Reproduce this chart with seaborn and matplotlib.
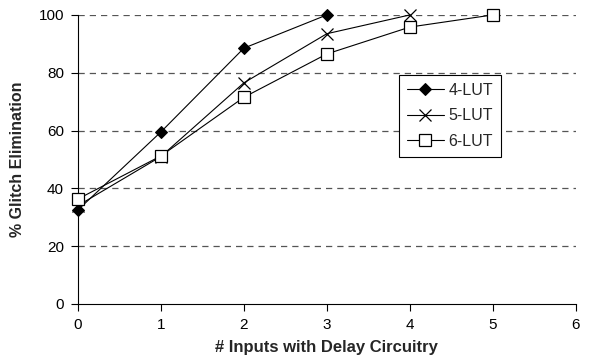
import seaborn as sns
import matplotlib.pyplot as plt
import pandas as pd

# values
lut4_x = [0, 1, 2, 3]
lut4_y = [32.5, 59.5, 88.5, 100]
lut5_x = [0, 1, 2, 3, 4]
lut5_y = [34, 51, 76.5, 93.5, 100]
lut6_x = [0, 1, 2, 3, 4, 5]
lut6_y = [36.3, 51.2, 71.5, 86.5, 95.8, 100]

df = pd.concat([
    pd.DataFrame({"x": lut4_x, "y": lut4_y, "LUT": "4-LUT"}),
    pd.DataFrame({"x": lut5_x, "y": lut5_y, "LUT": "5-LUT"}),
    pd.DataFrame({"x": lut6_x, "y": lut6_y, "LUT": "6-LUT"}),
])

sns.set_style("white")
plt.rcParams["font.family"] = ["Liberation Sans", "DejaVu Sans"]

fig = plt.figure(figsize=(5.9, 3.64), dpi=100)
ax = fig.add_axes([0.132, 0.165, 0.844, 0.794])

styles = {
    "4-LUT": dict(marker="D", markersize=6, markerfacecolor="black", markeredgecolor="black"),
    "5-LUT": dict(marker="x", markersize=8, markeredgecolor="black", markeredgewidth=0.9),
    "6-LUT": dict(marker="s", markersize=8, markerfacecolor="white", markeredgecolor="black", markeredgewidth=0.9),
}
for name, sub in df.groupby("LUT"):
    sns.lineplot(data=sub, x="x", y="y", ax=ax, color="black", linewidth=0.8,
                 label=name, zorder=3, clip_on=False, **styles[name])

ax.set_xlim(0, 6)
ax.set_ylim(0, 100)
ax.set_xticks(range(0, 7))
ax.set_yticks(range(0, 101, 20))
for v in range(20, 101, 20):
    ax.axhline(v, color="#555555", linestyle=(0, (5, 4)), linewidth=0.9, zorder=1)

for s in ["top", "right"]:
    ax.spines[s].set_visible(False)
for s in ["left", "bottom"]:
    ax.spines[s].set_color("black")
    ax.spines[s].set_linewidth(0.8)
ax.tick_params(axis="both", direction="out", length=5, width=0.8, colors="black",
               labelsize=11, left=True, bottom=True, pad=5)
ax.set_xlabel("# Inputs with Delay Circuitry", fontsize=12, fontweight="bold", labelpad=6)
ax.set_ylabel("% Glitch Elimination", fontsize=11.5, fontweight="bold", labelpad=10)

leg = ax.legend(loc="upper left", bbox_to_anchor=(0.645, 0.792), borderaxespad=0,
                frameon=True, fancybox=False, edgecolor="black", fontsize=11.5,
                handlelength=2.3, borderpad=0.5, labelspacing=0.65, handletextpad=0.3)
leg.get_frame().set_linewidth(0.8)
leg.get_frame().set_alpha(1)

plt.savefig("out.png", dpi=100)
plt.close()
